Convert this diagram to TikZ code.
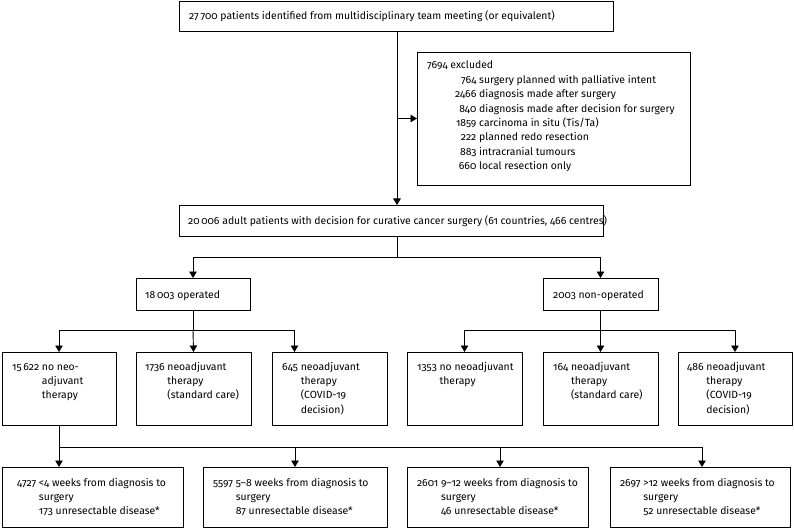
\documentclass[tikz,border=0pt]{standalone}
\usepackage{fontspec}
\setmainfont{Fira Sans}[Numbers=OldStyle]
\usetikzlibrary{arrows.meta}
\begin{document}
\begin{tikzpicture}[x=1pt,y=-1pt,
  box/.style={draw, line width=0.9pt, inner sep=0pt, outer sep=0pt},
  txt/.style={inner sep=0pt, anchor=base west, font=\fontsize{10.4}{14.4}\selectfont},
  conn/.style={line width=0.9pt},
  arr/.style={line width=0.9pt, -{Triangle[width=7.5pt,length=6.5pt]}}]
\useasboundingbox (0,0) rectangle (794,529);
% boxes
\node[box, minimum width=434pt, minimum height=30pt] (top) at (396,16) {};
\node[box, minimum width=273pt, minimum height=133pt] (excl) at (553.5,118.5) {};
\node[box, minimum width=424pt, minimum height=31pt] (mid) at (391,220.5) {};
\node[box, minimum width=114pt, minimum height=32pt] (oper) at (193,294) {};
\node[box, minimum width=115pt, minimum height=32pt] (nonop) at (600.5,294) {};
\node[box, minimum width=114pt, minimum height=73pt] (b1) at (59,388.5) {};
\node[box, minimum width=115pt, minimum height=73pt] (b2) at (193.5,388.5) {};
\node[box, minimum width=115pt, minimum height=73pt] (b3) at (329.5,388.5) {};
\node[box, minimum width=115pt, minimum height=73pt] (b4) at (464.5,388.5) {};
\node[box, minimum width=115pt, minimum height=73pt] (b5) at (600.5,388.5) {};
\node[box, minimum width=114pt, minimum height=73pt] (b6) at (735,388.5) {};
\node[box, minimum width=181pt, minimum height=60pt] (d1) at (92.5,497) {};
\node[box, minimum width=184pt, minimum height=60pt] (d2) at (295,497) {};
\node[box, minimum width=181pt, minimum height=60pt] (d3) at (497.5,497) {};
\node[box, minimum width=180pt, minimum height=60pt] (d4) at (700,497) {};
% texts
\node[txt] (ttop) at (189,19.5) {27\,700 patients identified from multidisciplinary team meeting (or equivalent)};
\node[txt] (texcl) at (427,69) {\begin{tabular}[t]{@{\hspace{28pt}}r@{\ }l@{}}
\multicolumn{2}{@{}l@{}}{7694 excluded}\\
764 & surgery planned with palliative intent\\
2466 & diagnosis made after surgery\\
840 & diagnosis made after decision for surgery\\
1859 & carcinoma in situ (Tis/Ta)\\
222 & planned redo resection\\
883 & intracranial tumours\\
660 & local resection only
\end{tabular}};
\node[txt] (tmid) at (188,224.5) {20\,006 adult patients with decision for curative cancer surgery (61 countries, 466 centres)};
\node[txt] (toper) at (145,298) {18\,003 operated};
\node[txt] (tnonop) at (553,298) {2003 non-operated};
\node[txt] (tb1) at (12,370) {\begin{tabular}[t]{@{}l@{\ }l@{}}15\,622 & no neo-\\ & adjuvant\\ & therapy\end{tabular}};
\node[txt] (tb2) at (145,370) {\begin{tabular}[t]{@{}l@{\ }l@{}}1736 & neoadjuvant\\ & therapy\\ & (standard care)\end{tabular}};
\node[txt] (tb3) at (282,370) {\begin{tabular}[t]{@{}l@{\ }l@{}}645 & neoadjuvant\\ & therapy\\ & (COVID-19\\ & decision)\end{tabular}};
\node[txt] (tb4) at (417,370) {\begin{tabular}[t]{@{}l@{\ }l@{}}1353 & no neoadjuvant\\ & therapy\end{tabular}};
\node[txt] (tb5) at (553,370) {\begin{tabular}[t]{@{}l@{\ }l@{}}164 & neoadjuvant\\ & therapy\\ & (standard care)\end{tabular}};
\node[txt] (tb6) at (687,370) {\begin{tabular}[t]{@{}l@{\ }l@{}}486 & neoadjuvant\\ & therapy\\ & (COVID-19\\ & decision)\end{tabular}};
\node[txt] (td1) at (17,486) {\begin{tabular}[t]{@{}l@{\ }l@{}}4727 & <4 weeks from diagnosis to\\ & surgery\\ & 173 unresectable disease*\end{tabular}};
\node[txt] (td2) at (213,486) {\begin{tabular}[t]{@{}l@{\ }l@{}}5597 & 5--8 weeks from diagnosis to\\ & surgery\\ & 87 unresectable disease*\end{tabular}};
\node[txt] (td3) at (417,486) {\begin{tabular}[t]{@{}l@{\ }l@{}}2601 & 9--12 weeks from diagnosis to\\ & surgery\\ & 46 unresectable disease*\end{tabular}};
\node[txt] (td4) at (620,486) {\begin{tabular}[t]{@{}l@{\ }l@{}}2697 & >12 weeks from diagnosis to\\ & surgery\\ & 52 unresectable disease*\end{tabular}};
% connectors
\coordinate (j1) at (397,118.5);
\coordinate (s1) at (397,257);
\coordinate (s2) at (193,330);
\coordinate (s3) at (600.5,330);
\coordinate (s4) at (59,447);
\draw[arr] (j1 |- top.south) -- (j1 |- mid.north);
\draw[arr] (j1) -- (excl.west);
\draw[conn] (s1 |- mid.south) -- (s1);
\draw[arr] (s1) -| (oper.north);
\draw[arr] (s1) -| (nonop.north);
\draw[conn] (oper.south) -- (s2);
\draw[arr] (s2) -| (b1.north);
\draw[arr] (s2) -- (b2.north);
\draw[arr] (s2) -| ([xshift=-35pt]b3.north);
\draw[conn] (nonop.south) -- (s3);
\draw[arr] (s3) -| (b4.north);
\draw[arr] (s3) -- (b5.north);
\draw[arr] (s3) -| (b6.north);
\draw[arr] (b1.south) -- (b1.south |- d1.north);
\draw[arr] (s4) -| (d2.north);
\draw[arr] (s4) -| ([xshift=2.5pt]d3.north);
\draw[arr] (s4) -| ([xshift=2pt]d4.north);
\end{tikzpicture}
\end{document}
